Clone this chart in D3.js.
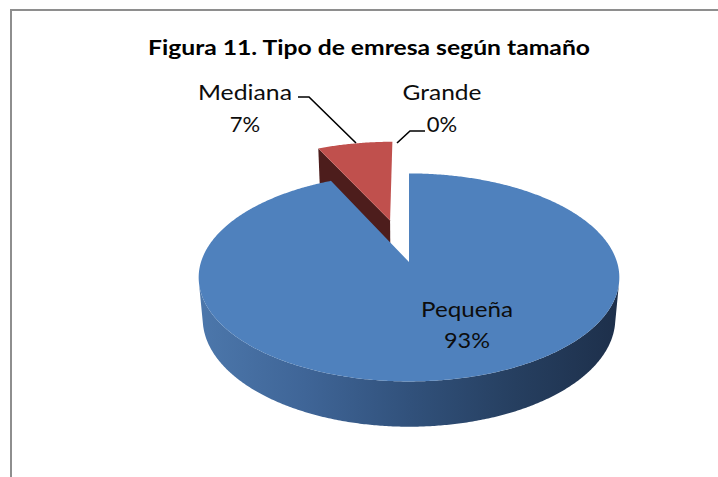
<!DOCTYPE html>
<html>
<head>
<meta charset="utf-8">
<script src="https://cdn.jsdelivr.net/npm/d3@7"></script>
<style>
  html, body { margin: 0; padding: 0; background: #fff; }
  svg { display: block; }
</style>
</head>
<body>
<svg id="chart" width="718" height="477"></svg>
<script>
// ---- Data ----
const title = "Figura 11. Tipo de emresa según tamaño";
const categories = ["Pequeña", "Mediana", "Grande"];
const values = [93, 7, 0];
const percentLabels = ["93%", "7%", "0%"];
const topColors = ["#4F81BD", "#C0504D", "#9BBB59"];
const wallColors = ["#2f4d75", "#4d1d1c", "#5d7030"];
const explodeAmount = [0, 0.444, 0];

// ---- Layout ----
const W = 718, H = 477;
const svg = d3.select("#chart");
const cx = 409, cy = 262;          // projection of top-center of pie
const s = 208;                     // radius in px
const phi = Math.asin(0.489);      // elevation angle
const Dcam = 5.88;                 // camera distance (radius units)
const T = 0.23;                    // pie thickness (radius units)

function project(X, Y, Z) {
  const u = Y * Math.cos(phi) - Z * Math.sin(phi);
  const w = Y * Math.sin(phi) + Z * Math.cos(phi);
  const p = Dcam / (Dcam - w);
  return [cx + X * p * s, cy - u * p * s];
}
const cam = [0, Dcam * Math.sin(phi), Dcam * Math.cos(phi)];

// frame
svg.append("rect").attr("x", 11).attr("y", 10).attr("width", 800).attr("height", 600)
  .attr("fill", "#fff").attr("stroke", "#8e8e8e").attr("stroke-width", 2);

// gradient for side wall
const defs = svg.append("defs");
const grad = defs.append("linearGradient").attr("id", "sideBlue")
  .attr("gradientUnits", "userSpaceOnUse").attr("x1", 200).attr("x2", 620).attr("y1", 0).attr("y2", 0);
[[0, "#4c77ab"], [0.25, "#3f6597"], [0.5, "#31517b"], [0.75, "#263f60"], [1, "#1d2f4a"]]
  .forEach(([o, c]) => grad.append("stop").attr("offset", o).attr("stop-color", c));
const sideFill = ["url(#sideBlue)", "#7a2f2d", "#6f8a3a"];

const pie = d3.pie().sort(null).value(d => d).startAngle(0).endAngle(2 * Math.PI);
const arcs = pie(values).map((a, i) => {
  const mid = (a.startAngle + a.endAngle) / 2;
  return Object.assign(a, {
    i,
    mid,
    ox: explodeAmount[i] * Math.sin(mid),
    oz: -explodeAmount[i] * Math.cos(mid)
  });
}).filter(a => a.endAngle - a.startAngle > 1e-6);

// draw far slices first
arcs.sort((a, b) => (a.oz - Math.cos(a.mid)) - (b.oz - Math.cos(b.mid)));

const line = d3.line();
const g = svg.append("g");

function rim(a, th, Y) { return project(a.ox + Math.sin(th), Y, a.oz - Math.cos(th)); }

arcs.forEach(a => {
  const sg = g.append("g").attr("class", "slice-" + a.i);
  // radial walls
  [[a.startAngle, -1], [a.endAngle, 1]].forEach(([th, sign]) => {
    const n = [sign * Math.cos(th), 0, sign * Math.sin(th)];
    const v = [cam[0] - a.ox, cam[1], cam[2] - a.oz];
    const dot = n[0] * v[0] + n[2] * v[2];
    if (dot > 0.3) {
      const pts = [project(a.ox, 0, a.oz), rim(a, th, 0), rim(a, th, -T), project(a.ox, -T, a.oz)];
      sg.append("path").attr("d", line(pts) + "Z").attr("fill", wallColors[a.i]);
    }
  });
  // outer wall (visible runs)
  const steps = Math.max(8, Math.ceil((a.endAngle - a.startAngle) / (Math.PI / 360)));
  let run = [];
  const runs = [];
  for (let k = 0; k <= steps; k++) {
    const th = a.startAngle + (a.endAngle - a.startAngle) * k / steps;
    const nx = Math.sin(th), nz = -Math.cos(th);
    const px = a.ox + nx, pz = a.oz + nz;
    const vis = nx * (cam[0] - px) + nz * (cam[2] - pz) > 0;
    if (vis) run.push(th); else if (run.length) { runs.push(run); run = []; }
  }
  if (run.length) runs.push(run);
  runs.forEach(r => {
    const top = r.map(th => rim(a, th, 0));
    const bot = r.slice().reverse().map(th => rim(a, th, -T));
    sg.append("path").attr("d", line(top.concat(bot)) + "Z").attr("fill", sideFill[a.i]);
  });
  // top face
  const topPts = [project(a.ox, 0, a.oz)];
  for (let k = 0; k <= steps; k++) {
    const th = a.startAngle + (a.endAngle - a.startAngle) * k / steps;
    topPts.push(rim(a, th, 0));
  }
  sg.append("path").attr("d", line(topPts) + "Z").attr("fill", topColors[a.i]);
});

// ---- Text ----
const font = "Lato, 'Open Sans', sans-serif";
function fitText(sel, width) {
  const n = sel.node();
  const w = n.getComputedTextLength();
  if (Math.abs(w - width) > 1) sel.attr("textLength", width).attr("lengthAdjust", "spacingAndGlyphs");
  return sel;
}
const t = svg.append("text").attr("x", 369).attr("y", 55).attr("text-anchor", "middle")
  .attr("font-family", font).attr("font-weight", "bold").attr("font-size", 21).attr("fill", "#000").text(title);
fitText(t, 442);

// label layout constants (pixel positions)
const labelPos = {
  "Pequeña": { x: 467, y1: 317, y2: 348, w1: 92, w2: 46 },
  "Mediana": { x: 245, y1: 100, y2: 132, w1: 94, w2: 30 },
  "Grande":  { x: 442, y1: 100, y2: 132, w1: 79, w2: 30 }
};
categories.forEach((c, i) => {
  const p = labelPos[c];
  const t1 = svg.append("text").attr("x", p.x).attr("y", p.y1).attr("text-anchor", "middle")
    .attr("font-family", font).attr("font-size", 22).attr("fill", "#0d0d0d").text(c);
  fitText(t1, p.w1);
  const t2 = svg.append("text").attr("x", p.x).attr("y", p.y2).attr("text-anchor", "middle")
    .attr("font-family", font).attr("font-size", 22).attr("fill", "#0d0d0d").text(percentLabels[i]);
  fitText(t2, p.w2);
});

// leader lines
const leaders = [
  [[298, 97], [309, 97], [356, 143]],
  [[397, 143], [410, 131], [425, 131]]
];
leaders.forEach(pts => svg.append("path").attr("d", d3.line()(pts))
  .attr("fill", "none").attr("stroke", "#000").attr("stroke-width", 1.6));
</script>
</body>
</html>
